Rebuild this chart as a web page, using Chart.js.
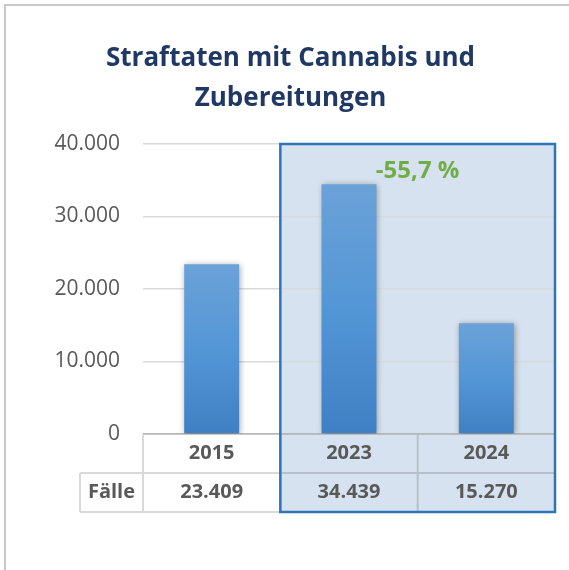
<!DOCTYPE html>
<html>
<head>
<meta charset="utf-8">
<script src="https://cdn.jsdelivr.net/npm/chart.js@4/dist/chart.umd.min.js"></script>
<style>
  body { margin: 0; background: #fff; }
  canvas { display: block; }
</style>
</head>
<body>
<canvas id="chart" width="569" height="570"></canvas>
<script>
// data
const titleLines = ["Straftaten mit Cannabis und", "Zubereitungen"];
const years = ["2015", "2023", "2024"];
const cases = [23409, 34439, 15270];
const rowLabel = "Fälle";
const changeLabel = "-55,7 %";
const yMax = 40000;
const yStep = 10000;

const textGray = "#595959";
const fmt = (v) => String(v).replace(/\B(?=(\d{3})+(?!\d))/g, ".");

// bar fill: lighter on top, darker at the bottom
const barFill = (ctx) => {
  const chart = ctx.chart;
  const area = chart.chartArea;
  if (!area || ctx.type !== "data") return "#5b9bd5";
  const top = chart.scales.y.getPixelForValue(ctx.raw);
  const g = chart.ctx.createLinearGradient(0, top, 0, area.bottom);
  g.addColorStop(0, "#6ba2d8");
  g.addColorStop(0.5, "#5396d6");
  g.addColorStop(1, "#3f80c4");
  return g;
};

const tableRow = 39;
const labelCellW = 63;

const tablePlugin = {
  id: "tablePlugin",
  beforeDraw(chart) {
    const c = chart.ctx;
    const a = chart.chartArea;
    const x = chart.scales.x;
    const half = (x.getPixelForValue(1) - x.getPixelForValue(0)) / 2;
    // outer frame
    c.save();
    c.strokeStyle = "#c8c8c8";
    c.lineWidth = 2;
    c.beginPath();
    c.moveTo(5, chart.height);
    c.lineTo(5, 5);
    c.lineTo(chart.width, 5);
    c.stroke();
    // highlight box fill
    const bx = x.getPixelForValue(1) - half;
    c.fillStyle = "#d6e2ef";
    c.fillRect(bx, a.top, a.right - bx, a.bottom + 2 * tableRow - a.top);
    c.restore();
  },
  beforeDatasetsDraw(chart) {
    const c = chart.ctx;
    c.save();
    c.shadowColor = "rgba(0,0,0,0.35)";
    c.shadowBlur = 6;
    c.shadowOffsetX = 1;
    c.shadowOffsetY = 1;
  },
  afterDatasetsDraw(chart) {
    chart.ctx.restore();
  },
  afterDraw(chart) {
    const c = chart.ctx;
    const a = chart.chartArea;
    const x = chart.scales.x;
    const y = chart.scales.y;
    const half = (x.getPixelForValue(1) - x.getPixelForValue(0)) / 2;
    const t0 = a.bottom, t1 = t0 + tableRow, t2 = t1 + tableRow;
    const lx = a.left - labelCellW;

    c.save();
    c.strokeStyle = "rgba(0,0,0,0.15)";
    c.lineWidth = 2;
    c.beginPath();
    c.moveTo(a.left, t0); c.lineTo(a.right, t0);
    c.moveTo(lx, t1); c.lineTo(a.right, t1);
    c.moveTo(lx, t2); c.lineTo(a.right, t2);
    c.moveTo(lx, t1); c.lineTo(lx, t2);
    years.forEach((yr, i) => {
      const cx = x.getPixelForValue(i);
      c.moveTo(cx - half, t0); c.lineTo(cx - half, t2);
    });
    c.moveTo(a.right, t0); c.lineTo(a.right, t2);
    c.stroke();

    c.fillStyle = textGray;
    c.font = "bold 20px 'Open Sans'";
    c.textAlign = "center";
    c.textBaseline = "middle";
    c.fillText(rowLabel, lx + labelCellW / 2, (t1 + t2) / 2);
    years.forEach((yr, i) => {
      const cx = x.getPixelForValue(i);
      c.fillText(yr, cx, (t0 + t1) / 2);
      c.fillText(fmt(cases[i]), cx, (t1 + t2) / 2);
    });

    // highlight box border
    const bx = x.getPixelForValue(1) - half;
    c.strokeStyle = "#2e75b6";
    c.lineWidth = 2.5;
    c.strokeRect(bx, a.top, a.right - bx, t2 - a.top);

    // change label
    c.fillStyle = "#70ad47";
    c.font = "bold 24px 'Open Sans'";
    const mx = (x.getPixelForValue(1) + x.getPixelForValue(2)) / 2;
    c.fillText(changeLabel, mx, y.getPixelForValue(cases[1]) - 13);
    c.restore();
  }
};

new Chart(document.getElementById("chart"), {
  type: "bar",
  data: {
    labels: years,
    datasets: [{
      label: rowLabel,
      data: cases,
      backgroundColor: barFill,
      borderWidth: 0,
      categoryPercentage: 0.8,
      barPercentage: 0.5
    }]
  },
  options: {
    responsive: false,
    animation: false,
    devicePixelRatio: 1,
    layout: { padding: { top: 6, left: 26, right: 14, bottom: 136 } },
    plugins: {
      legend: { display: false },
      tooltip: { enabled: false },
      title: {
        display: true,
        text: titleLines,
        color: "#1f3864",
        font: { family: "'Open Sans'", size: 26, weight: "bold", lineHeight: 40 / 26 },
        padding: { top: 33, bottom: 25 }
      }
    },
    scales: {
      x: { display: false, offset: true, grid: { display: false } },
      y: {
        min: 0,
        max: yMax,
        afterFit: (scale) => { scale.width = 117; },
        border: { display: false },
        grid: { color: "#d9d9d9", lineWidth: 1.5, drawTicks: false },
        ticks: {
          stepSize: yStep,
          padding: 23,
          color: textGray,
          font: { family: "'Open Sans'", size: 21 },
          callback: (v) => fmt(v)
        }
      }
    }
  },
  plugins: [tablePlugin]
});
</script>
</body>
</html>
